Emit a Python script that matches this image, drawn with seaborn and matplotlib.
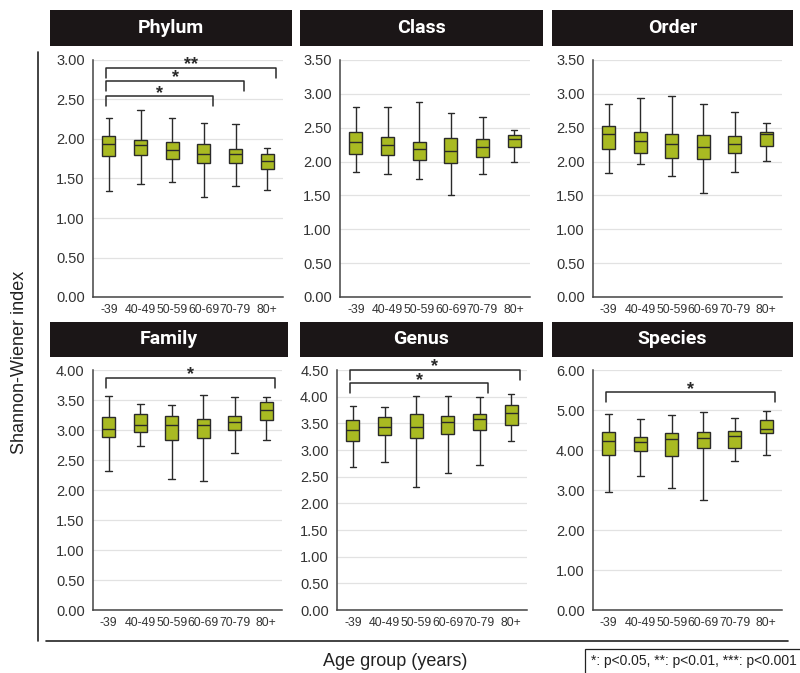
import numpy as np
import pandas as pd
import matplotlib
matplotlib.use("Agg")
import matplotlib.pyplot as plt
from matplotlib.lines import Line2D
from matplotlib.patches import Rectangle
from matplotlib.ticker import FormatStrFormatter
import seaborn as sns

age_groups = ["-39", "40-49", "50-59", "60-69", "70-79", "80+"]
ranks = ["Phylum", "Class", "Order", "Family", "Genus", "Species"]

# five-number summaries per age group: [min, Q1, median, Q3, max]
phylum = [
    [1.34, 1.78, 1.935, 2.04, 2.27],
    [1.43, 1.80, 1.92, 1.99, 2.37],
    [1.45, 1.75, 1.86, 1.96, 2.27],
    [1.26, 1.69, 1.81, 1.94, 2.20],
    [1.40, 1.70, 1.81, 1.87, 2.19],
    [1.36, 1.62, 1.72, 1.81, 1.89],
]
klass = [
    [1.84, 2.11, 2.29, 2.43, 2.81],
    [1.82, 2.09, 2.25, 2.37, 2.80],
    [1.74, 2.03, 2.18, 2.29, 2.88],
    [1.51, 1.98, 2.15, 2.35, 2.71],
    [1.82, 2.07, 2.22, 2.33, 2.66],
    [1.99, 2.22, 2.33, 2.39, 2.47],
]
order = [
    [1.83, 2.19, 2.41, 2.53, 2.85],
    [1.96, 2.13, 2.30, 2.44, 2.94],
    [1.78, 2.06, 2.26, 2.41, 2.97],
    [1.53, 2.04, 2.22, 2.39, 2.85],
    [1.84, 2.12, 2.26, 2.38, 2.73],
    [2.01, 2.23, 2.40, 2.44, 2.57],
]
family = [
    [2.31, 2.88, 3.01, 3.21, 3.56],
    [2.74, 2.96, 3.08, 3.26, 3.43],
    [2.19, 2.84, 3.09, 3.24, 3.42],
    [2.15, 2.87, 3.09, 3.19, 3.58],
    [2.61, 3.00, 3.14, 3.23, 3.55],
    [2.84, 3.16, 3.33, 3.46, 3.55],
]
genus = [
    [2.68, 3.16, 3.38, 3.57, 3.83],
    [2.78, 3.28, 3.44, 3.62, 3.81],
    [2.31, 3.23, 3.43, 3.67, 4.02],
    [2.56, 3.30, 3.53, 3.64, 4.02],
    [2.71, 3.37, 3.58, 3.68, 3.99],
    [3.16, 3.46, 3.70, 3.85, 4.05],
]
species = [
    [2.95, 3.87, 4.22, 4.45, 4.90],
    [3.34, 3.98, 4.20, 4.33, 4.77],
    [3.04, 3.84, 4.28, 4.42, 4.88],
    [2.74, 4.05, 4.31, 4.45, 4.95],
    [3.72, 4.06, 4.35, 4.48, 4.79],
    [3.87, 4.42, 4.53, 4.74, 4.98],
]

y_max = [3.0, 3.5, 3.5, 4.0, 4.5, 6.0]
y_step = [0.5, 0.5, 0.5, 0.5, 0.5, 1.0]

# significance brackets: (first group, second group, bracket level, label)
phylum_sig = [(0, 3, 2.54, "*"), (0, 4, 2.74, "*"), (0, 5, 2.90, "**")]
family_sig = [(0, 5, 3.87, "*")]
genus_sig = [(0, 4, 4.25, "*"), (0, 5, 4.50, "*")]
species_sig = [(0, 5, 5.44, "*")]

panel_stats = [phylum, klass, order, family, genus, species]
panel_sig = [phylum_sig, [], [], family_sig, genus_sig, species_sig]

sns.set_theme(style="white")
plt.rcParams["font.family"] = ["Liberation Sans", "DejaVu Sans"]

W, H = 800, 673
fig = plt.figure(figsize=(W / 100, H / 100), dpi=100)
fig.patch.set_facecolor("white")

BOX = "#a9ba22"
EDGE = "#2a2a2a"
TXT = "#333333"


def fig_rect(x0, y0, x1, y1):
    return [x0 / W, 1 - y1 / H, (x1 - x0) / W, (y1 - y0) / H]


axes_px = [
    (93, 60, 283, 297), (340, 60, 530, 297), (593, 60, 782, 297),
    (93, 370, 282, 610), (337, 370, 527, 610), (593, 370, 782, 610),
]
title_px = [
    (50, 10, 292, 46), (300, 10, 543, 46), (552, 10, 793, 46),
    (50, 322, 288, 357), (300, 322, 543, 357), (552, 322, 793, 357),
]

for k in range(6):
    stats = panel_stats[k]
    df = pd.DataFrame({
        "age": np.repeat(age_groups, 5),
        "H": np.ravel(stats),
    })
    ax = fig.add_axes(fig_rect(*axes_px[k]))
    sns.boxplot(
        data=df, x="age", y="H", order=age_groups, ax=ax,
        whis=(0, 100), width=0.42, color=BOX, saturation=1,
        linecolor=EDGE, linewidth=1.0, showfliers=False,
    )
    top = y_max[k]
    ax.set_xlim(-0.5, 5.5)
    ax.set_ylim(0, top)
    ax.set_yticks(np.arange(0, top + 1e-9, y_step[k]))
    ax.yaxis.set_major_formatter(FormatStrFormatter("%.2f"))
    ax.set_xticks(np.arange(0.5, 5.6, 1.0), minor=True)
    ax.set_xlabel("")
    ax.set_ylabel("")
    ax.yaxis.grid(True, color="#e2e2e2", lw=0.9)
    ax.set_axisbelow(True)
    for side in ("top", "right"):
        ax.spines[side].set_visible(False)
    for side in ("left", "bottom"):
        ax.spines[side].set_color("#444444")
        ax.spines[side].set_linewidth(1.1)
    ax.tick_params(axis="x", which="major", length=0, pad=5,
                   labelsize=8.8, labelcolor=TXT)
    ax.tick_params(axis="x", which="minor", length=4, width=1.0,
                   color="#444444", direction="out")
    ax.tick_params(axis="y", length=4, width=1.0, color="#444444",
                   direction="out", pad=2, labelsize=10.5, labelcolor=TXT)

    # significance brackets
    ax_h = axes_px[k][3] - axes_px[k][1]
    drop = top * 10 / ax_h
    for i, j, lvl, lab in panel_sig[k]:
        xl, xr = i - 0.1, j + 0.28
        ax.plot([xl, xl, xr, xr], [lvl - drop, lvl, lvl, lvl - drop],
                color=EDGE, lw=1.1, clip_on=False)
        ax.text((xl + xr) / 2, lvl - drop * 0.15, lab, ha="center",
                va="baseline", fontsize=13, fontweight="bold",
                color=EDGE, clip_on=False)

    # black header strip with the taxonomic rank
    x0, y0, x1, y1 = title_px[k]
    fig.patches.append(Rectangle(
        (x0 / W, 1 - y1 / H), (x1 - x0) / W, (y1 - y0) / H,
        transform=fig.transFigure, facecolor="#1b1617", edgecolor="none"))
    fig.text((x0 + x1) / 2 / W, 1 - (y0 + y1) / 2 / H, ranks[k],
             ha="center", va="center", color="white", fontsize=14,
             fontweight="bold", family=["Roboto", "DejaVu Sans"])

# frame lines around the grid of panels
fig.add_artist(Line2D([38 / W, 38 / W], [1 - 52 / H, 1 - 641 / H],
                      color="#222222", lw=1.2, transform=fig.transFigure))
fig.add_artist(Line2D([46 / W, 788 / W], [1 - 641 / H, 1 - 641 / H],
                      color="#222222", lw=1.2, transform=fig.transFigure))

fig.text(20 / W, 1 - 362 / H, "Shannon-Wiener index", rotation=90,
         ha="center", va="center", fontsize=13, color="#222222")
fig.text(395 / W, 1 - 661 / H, "Age group (years)", ha="center",
         va="center", fontsize=13, color="#222222")

fig.patches.append(Rectangle(
    (585 / W, 1 - 690 / H), 240 / W, 41 / H, transform=fig.transFigure,
    facecolor="white", edgecolor="#222222", lw=0.9))
fig.text(591 / W, 1 - 661 / H, "*: p<0.05, **: p<0.01, ***: p<0.001",
         ha="left", va="center", fontsize=10, color="#222222")

fig.savefig("out.png", dpi=100)
